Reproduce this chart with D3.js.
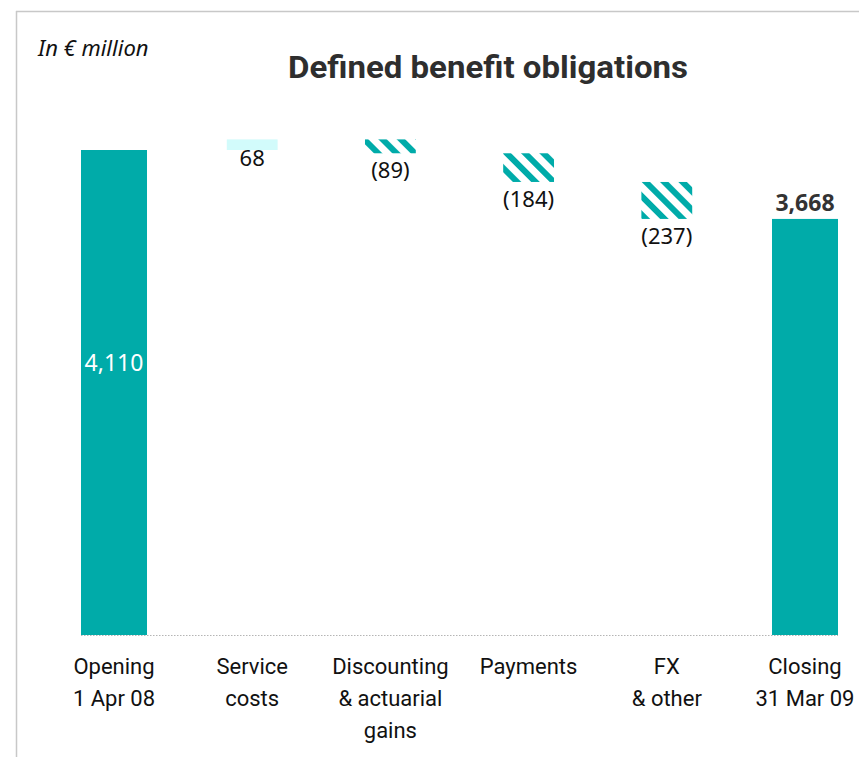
<!DOCTYPE html>
<html>
<head>
<meta charset="utf-8">
<script src="https://cdn.jsdelivr.net/npm/d3@7"></script>
<style>
  html, body { margin: 0; padding: 0; background: #fff; }
  svg { display: block; }
</style>
</head>
<body>
<svg id="chart" width="859" height="757"></svg>
<script>
// Waterfall of defined benefit obligations, in € million
const categories = [
  ["Opening", "1 Apr 08"],
  ["Service", "costs"],
  ["Discounting", "& actuarial", "gains"],
  ["Payments"],
  ["FX", "& other"],
  ["Closing", "31 Mar 09"]
];
const kinds  = ["total", "increase", "decrease", "decrease", "decrease", "total"];
const values = [4110, 68, -89, -184, -237, 3668];
const valueLabels = ["4,110", "68", "(89)", "(184)", "(237)", "3,668"];
const axisFloor = 1000;   // value axis is truncated, starting at this level

const teal = "#00aba9";
const lightCyan = "#d2fbfb";

// running totals -> start/end for each bar
let running = 0;
const bars = values.map((v, i) => {
  let start, end;
  if (kinds[i] === "total") { start = axisFloor; end = v; running = v; }
  else { start = running; end = running + v; running = end; }
  return { i, key: categories[i].join(" "), lines: categories[i], kind: kinds[i], value: v, label: valueLabels[i], start, end };
});

const svg = d3.select("#chart");

// frame lines
svg.append("line").attr("x1", 16.5).attr("x2", 16.5).attr("y1", 11).attr("y2", 757)
  .attr("stroke", "#c8c8c8").attr("stroke-width", 1.5);
svg.append("line").attr("x1", 16).attr("x2", 859).attr("y1", 11.5).attr("y2", 11.5)
  .attr("stroke", "#c8c8c8").attr("stroke-width", 1.5);

// hatch for decreases
const defs = svg.append("defs");
const pat = defs.append("pattern").attr("id", "hatch")
  .attr("patternUnits", "userSpaceOnUse").attr("width", 13).attr("height", 13)
  .attr("patternTransform", "rotate(-45)");
pat.append("rect").attr("x", 0).attr("y", 0).attr("width", 6).attr("height", 13).attr("fill", teal);

const x = d3.scaleBand()
  .domain(bars.map(d => d.key))
  .range([81, 838])
  .paddingInner(0.5224)
  .paddingOuter(0);

const y = d3.scaleLinear()
  .domain([axisFloor, 4110])
  .range([635, 150]);

// title and unit note
svg.append("text").attr("x", 488).attr("y", 78)
  .attr("text-anchor", "middle")
  .attr("font-family", "Roboto, 'DejaVu Sans', sans-serif")
  .attr("font-weight", 700).attr("font-size", 32)
  .attr("textLength", 400).attr("lengthAdjust", "spacingAndGlyphs")
  .attr("fill", "#2e2e2e")
  .text("Defined benefit obligations");

svg.append("text").attr("x", 38).attr("y", 56)
  .attr("font-family", "'Noto Sans', 'Open Sans', sans-serif")
  .attr("font-style", "italic").attr("font-size", 22)
  .attr("fill", "#111")
  .text("In € million");

// bars
const barWidth = d => d.kind === "total" ? x.bandwidth() : x.bandwidth() * 0.77;
const g = svg.append("g");
g.selectAll("rect.bar").data(bars).join("rect")
  .attr("class", "bar")
  .attr("x", d => x(d.key) + (x.bandwidth() - barWidth(d)) / 2)
  .attr("width", barWidth)
  .attr("y", d => y(Math.max(d.start, d.end)))
  .attr("height", d => Math.abs(y(d.start) - y(d.end)))
  .attr("fill", d => d.kind === "total" ? teal : d.kind === "increase" ? lightCyan : "url(#hatch)");

// dotted baseline
svg.append("line")
  .attr("x1", x.range()[0]).attr("x2", x.range()[1])
  .attr("y1", y(axisFloor) + 0.5).attr("y2", y(axisFloor) + 0.5)
  .attr("stroke", "#b5b5b5").attr("stroke-width", 1)
  .attr("stroke-dasharray", "1.5,1.5");

// value labels
const labelFont = "'Noto Sans', 'Open Sans', sans-serif";
g.selectAll("text.val").data(bars).join("text")
  .attr("class", "val")
  .attr("x", d => x(d.key) + x.bandwidth() / 2)
  .attr("y", d => {
    if (d.i === 0) return (y(d.start) + y(d.end)) / 2 - 22;
    if (d.kind === "total") return y(d.end) - 8;
    if (d.kind === "increase") return y(Math.min(d.start, d.end)) + 16;
    return y(Math.min(d.start, d.end)) + 25;
  })
  .attr("text-anchor", "middle")
  .attr("font-family", labelFont)
  .attr("font-size", d => d.kind === "total" ? 23 : 22)
  .attr("font-weight", d => d.i === bars.length - 1 ? 700 : 400)
  .attr("fill", d => d.i === 0 ? "#ffffff" : (d.i === bars.length - 1 ? "#333333" : "#111111"))
  .text(d => d.label);

// category labels
const cat = svg.append("g");
bars.forEach(d => {
  const t = cat.append("text")
    .attr("text-anchor", "middle")
    .attr("font-family", "Roboto, 'Noto Sans', sans-serif")
    .attr("font-size", 22)
    .attr("fill", "#111");
  d.lines.forEach((ln, k) => {
    t.append("tspan")
      .attr("x", x(d.key) + x.bandwidth() / 2)
      .attr("y", 674 + k * 32)
      .text(ln);
  });
});
</script>
</body>
</html>
